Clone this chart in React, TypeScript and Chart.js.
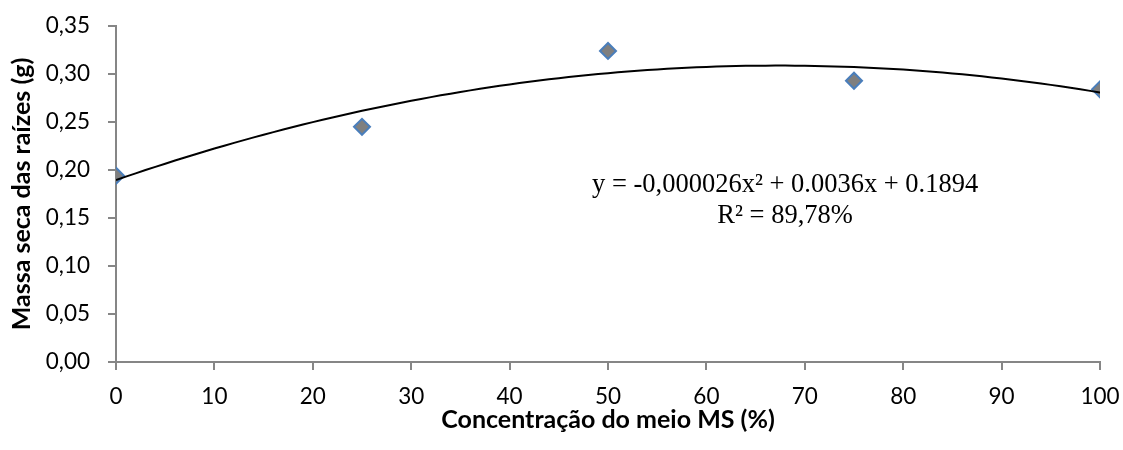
import React, { useEffect, useRef } from "react";
import { Chart, registerables } from "chart.js";

Chart.register(...registerables);

const concentrations = [0, 25, 50, 75, 100];
const rootMass = [0.194, 0.245, 0.324, 0.293, 0.284];
const yTickLabels = ["0,00", "0,05", "0,10", "0,15", "0,20", "0,25", "0,30", "0,35"];
const xTickLabels = ["0", "10", "20", "30", "40", "50", "60", "70", "80", "90", "100"];
const equationText = "y = -0,000026x² + 0.0036x + 0.1894";
const r2Text = "R² = 89,78%";
const xTitle = "Concentração do meio MS (%)";
const yTitle = "Massa seca das raízes (g)";

// Quadratic least-squares trendline computed from the data (Excel-style polynomial trendline)
function fitQuadratic(xs: number[], ys: number[]) {
  const n = xs.length;
  let s1 = 0, s2 = 0, s3 = 0, s4 = 0, t0 = 0, t1 = 0, t2 = 0;
  for (let i = 0; i < n; i++) {
    const x = xs[i], y = ys[i];
    s1 += x; s2 += x * x; s3 += x * x * x; s4 += x * x * x * x;
    t0 += y; t1 += x * y; t2 += x * x * y;
  }
  const M = [
    [n, s1, s2, t0],
    [s1, s2, s3, t1],
    [s2, s3, s4, t2],
  ];
  for (let c = 0; c < 3; c++) {
    for (let r = c + 1; r < 3; r++) {
      const f = M[r][c] / M[c][c];
      for (let k = c; k < 4; k++) M[r][k] -= f * M[c][k];
    }
  }
  const sol = [0, 0, 0];
  for (let r = 2; r >= 0; r--) {
    let v = M[r][3];
    for (let k = r + 1; k < 3; k++) v -= M[r][k] * sol[k];
    sol[r] = v / M[r][r];
  }
  return sol;
}

const annotationPlugin = {
  id: "eqAnnotation",
  afterDraw(chart: any) {
    const { ctx, scales } = chart;
    const xs = scales.x;
    const ys = scales.y;
    const cx = xs.getPixelForValue(68);
    ctx.save();
    ctx.fillStyle = "#000";
    ctx.textAlign = "center";
    ctx.textBaseline = "middle";
    ctx.font = "26.5px 'Liberation Serif', 'Times New Roman', serif";
    ctx.fillText(equationText, cx, ys.getPixelForValue(0.1845));
    ctx.fillText(r2Text, cx, ys.getPixelForValue(0.1525));
    ctx.restore();
  },
};

const zeroPad = (s: any) => {
  s.paddingTop = 0;
  s.paddingBottom = 0;
  s.paddingLeft = 0;
  s.paddingRight = 0;
};

export default function App() {
  const ref = useRef<HTMLCanvasElement | null>(null);
  useEffect(() => {
    if (!ref.current) return;
    const [a0, a1, a2] = fitQuadratic(concentrations, rootMass);
    const trend: { x: number; y: number }[] = [];
    for (let x = 0; x <= 100; x += 1) trend.push({ x, y: a0 + a1 * x + a2 * x * x });
    const axisColor = "#868686";
    const tickFont = { family: "Lato, 'Open Sans', sans-serif", size: 22.5 };
    const titleFont = { family: "Lato, 'Open Sans', sans-serif", size: 25, weight: "bold" as const };
    const chart = new Chart(ref.current, {
      type: "scatter",
      data: {
        datasets: [
          {
            label: "Tendência",
            data: trend,
            showLine: true,
            borderColor: "#000",
            borderWidth: 2,
            pointRadius: 0,
            fill: false,
            order: 0,
          },
          {
            label: "Massa seca",
            data: concentrations.map((x, i) => ({ x, y: rootMass[i] })),
            pointStyle: "rectRot",
            pointRadius: 8,
            backgroundColor: "#7f7f7f",
            borderColor: "#4a7ebb",
            borderWidth: 2,
            order: 1,
          },
        ],
      },
      options: {
        responsive: false,
        animation: false,
        layout: { padding: { left: 0, top: 26, right: 23, bottom: 0 } },
        plugins: { legend: { display: false }, tooltip: { enabled: false } },
        scales: {
          x: {
            type: "linear",
            min: 0,
            max: 100,
            afterFit: (s: any) => { s.height = 88; zeroPad(s); },
            grid: { display: true, drawOnChartArea: false, drawTicks: true, tickLength: 8, color: axisColor, lineWidth: 2 },
            border: { color: axisColor, width: 2 },
            ticks: {
              stepSize: 10,
              padding: 13,
              color: "#000",
              font: tickFont,
              callback: (_v: any, i: number) => xTickLabels[i],
            },
            title: { display: true, text: xTitle, color: "#000", font: titleFont, padding: { top: 15, bottom: 15 } },
          },
          y: {
            type: "linear",
            min: 0,
            max: 0.35,
            afterFit: (s: any) => { s.width = 116; zeroPad(s); },
            grid: { display: true, drawOnChartArea: false, drawTicks: true, tickLength: 8, color: axisColor, lineWidth: 2 },
            border: { color: axisColor, width: 2 },
            ticks: {
              stepSize: 0.05,
              padding: 18,
              color: "#000",
              font: tickFont,
              callback: (_v: any, i: number) => yTickLabels[i],
            },
            title: { display: true, text: yTitle, color: "#000", font: titleFont, padding: { top: 7, bottom: 7 } },
          },
        },
      },
      plugins: [annotationPlugin],
    });
    return () => chart.destroy();
  }, []);
  return (
    <div style={{ position: "fixed", left: 0, top: 0, width: 1123, height: 450, background: "#fff" }}>
      <canvas ref={ref} width={1123} height={450} />
    </div>
  );
}
